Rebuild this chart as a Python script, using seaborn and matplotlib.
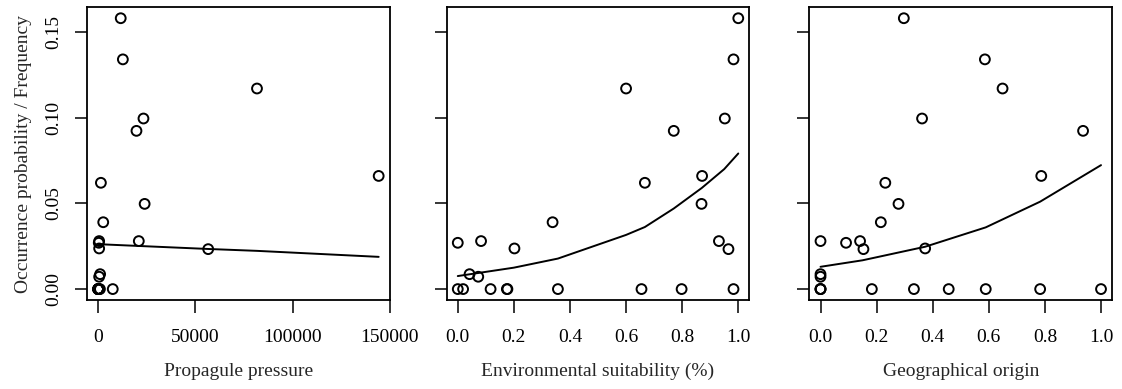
import matplotlib
matplotlib.use("Agg")
import matplotlib.pyplot as plt
import numpy as np
import pandas as pd
import seaborn as sns

# observed frequency per species (shared by the three panels)
frequency = [0.158, 0.134, 0.117, 0.0995, 0.0923, 0.066, 0.062, 0.0497, 0.039,
             0.028, 0.028, 0.027, 0.0237, 0.0233, 0.0087, 0.0072,
             0, 0, 0, 0, 0, 0, 0, 0, 0]

propagule = [11600, 12700, 81700, 23300, 19700, 144300, 1400, 23900, 2600,
             500, 20900, 300, 500, 56600, 1000, 500,
             0, 900, 0, 300, 0, 7500, 0, 0, 100]
env_suit = [1.0, 0.983, 0.600, 0.952, 0.770, 0.871, 0.667, 0.869, 0.338,
            0.083, 0.931, 0.0, 0.202, 0.965, 0.042, 0.073,
            0.0, 0.019, 0.117, 0.175, 0.177, 0.357, 0.655, 0.798, 0.983]
geo_origin = [0.297, 0.586, 0.649, 0.362, 0.936, 0.787, 0.231, 0.278, 0.215,
              0.0, 0.141, 0.091, 0.373, 0.153, 0.0, 0.0,
              0.0, 0.0, 0.183, 0.333, 0.457, 0.589, 0.783, 1.0, 0.0]

# fitted curves
pp_fit_x = [0, 20000, 56600, 81700, 144300]
pp_fit_y = [0.0262, 0.0252, 0.0234, 0.0223, 0.0188]
es_fit_x = [0, 0.2, 0.357, 0.6, 0.667, 0.77, 0.87, 0.95, 1.0]
es_fit_y = [0.0076, 0.0125, 0.0178, 0.0316, 0.0362, 0.0470, 0.0590, 0.0700, 0.0791]
go_fit_x = [0, 0.15, 0.373, 0.589, 0.783, 1.0]
go_fit_y = [0.0130, 0.0168, 0.0247, 0.0360, 0.0510, 0.0723]

x_labels = ["Propagule pressure", "Environmental suitability (%)", "Geographical origin"]
y_label = "Occurrence probability / Frequency"

sns.set_theme(style="ticks")
plt.rcParams["font.family"] = ["Liberation Serif", "DejaVu Serif"]
fs = 14

panels = [
    (propagule, pp_fit_x, pp_fit_y, [0, 50000, 100000, 150000], ["0", "50000", "100000", "150000"]),
    (env_suit, es_fit_x, es_fit_y, [0, 0.2, 0.4, 0.6, 0.8, 1.0], ["0.0", "0.2", "0.4", "0.6", "0.8", "1.0"]),
    (geo_origin, go_fit_x, go_fit_y, [0, 0.2, 0.4, 0.6, 0.8, 1.0], ["0.0", "0.2", "0.4", "0.6", "0.8", "1.0"]),
]

fig = plt.figure(figsize=(11.22, 3.89), dpi=100)
lefts = [0.0775, 0.398, 0.7213]
ymin, ymax = 0, max(frequency)
ypad = 0.04 * (ymax - ymin)

for i, (xs, fx, fy, xticks, xticklabels) in enumerate(panels):
    ax = fig.add_axes([lefts[i], 0.229, 0.270, 0.752])
    df = pd.DataFrame({"x": xs, "y": frequency})
    sns.scatterplot(data=df, x="x", y="y", ax=ax, marker="o", s=50,
                    facecolor="none", edgecolor="black", linewidth=1.4)
    sns.lineplot(x=fx, y=fy, ax=ax, color="black", linewidth=1.4,
                 estimator=None, sort=False)
    xpad = 0.04 * (max(xs) - min(xs))
    ax.set_xlim(min(xs) - xpad, max(xs) + xpad)
    ax.set_ylim(ymin - ypad, ymax + ypad)
    ax.set_xticks(xticks)
    ax.set_xticklabels(xticklabels, fontsize=fs)
    ax.set_yticks([0, 0.05, 0.10, 0.15])
    if i == 0:
        ax.set_yticklabels(["0.00", "0.05", "0.10", "0.15"], rotation=90,
                           va="center", fontsize=fs)
        ax.set_ylabel(y_label, labelpad=9, fontsize=fs)
    else:
        ax.set_yticklabels([])
        ax.set_ylabel("")
    ax.set_xlabel(x_labels[i], labelpad=12, fontsize=fs)
    ax.tick_params(axis="x", pad=12)
    ax.tick_params(axis="y", pad=9)
    ax.tick_params(direction="out", length=9, width=1.1, colors="black")
    for sp in ax.spines.values():
        sp.set_visible(True)
        sp.set_linewidth(1.3)
        sp.set_color("black")
    ax.set_facecolor("white")

fig.savefig("out.png", dpi=100, facecolor="white")
